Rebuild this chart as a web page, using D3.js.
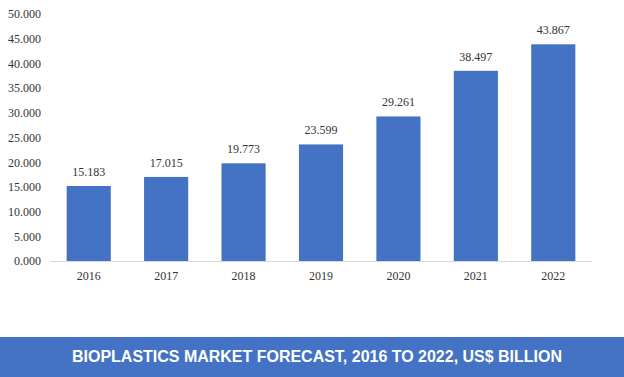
<!DOCTYPE html>
<html lang="en">
<head>
  <meta charset="UTF-8">
  <title>Bioplastics Market Forecast</title>
  <script src="https://d3js.org/d3.v7.min.js"></script>
  <style>
    body { margin: 0; background: #ffffff; }
    svg { display: block; }
    .axis text {
      font-family: "Liberation Serif", "Times New Roman", serif;
      font-size: 12px;
      fill: #333333;
    }
    .value-label {
      font-family: "Liberation Serif", "Times New Roman", serif;
      font-size: 12px;
      fill: #333333;
      text-anchor: middle;
    }
    .title-text {
      font-family: "Liberation Sans", Arial, sans-serif;
      font-size: 16px;
      font-weight: bold;
      fill: #ffffff;
      text-anchor: middle;
    }
  </style>
</head>
<body>
  <svg width="624" height="377"></svg>
  <script>
    const width = 624;
    const height = 377;

    // Data
    const years = ["2016", "2017", "2018", "2019", "2020", "2021", "2022"];
    const values = [15.183, 17.015, 19.773, 23.599, 29.261, 38.497, 43.867];
    const yTicks = [0, 5, 10, 15, 20, 25, 30, 35, 40, 45, 50];
    const title = "BIOPLASTICS MARKET FORECAST, 2016 TO 2022, US$ BILLION";

    const data = years.map((y, i) => ({ year: y, value: values[i] }));

    const svg = d3.select("svg");

    const xScale = d3.scaleBand()
      .domain(years)
      .range([50, 592])
      .paddingInner(0.43)
      .paddingOuter(0.215);

    const yScale = d3.scaleLinear()
      .domain([0, 50])
      .range([261, 14]);

    const fmt = d3.format(".3f");

    // Y axis (labels only)
    const yAxis = svg.append("g")
      .attr("class", "axis")
      .attr("transform", "translate(41,0)")
      .call(d3.axisLeft(yScale).tickValues(yTicks).tickSize(0).tickPadding(0).tickFormat(fmt));
    yAxis.select(".domain").remove();

    // Bars
    svg.append("g")
      .selectAll("rect")
      .data(data)
      .join("rect")
      .attr("x", d => xScale(d.year))
      .attr("y", d => yScale(d.value))
      .attr("width", xScale.bandwidth())
      .attr("height", d => yScale(0) - yScale(d.value))
      .attr("fill", "#4472C4");

    // X axis
    const xAxis = svg.append("g")
      .attr("class", "axis")
      .attr("transform", `translate(0,${yScale(0)})`)
      .call(d3.axisBottom(xScale).tickSize(0).tickPadding(10));
    xAxis.select(".domain").attr("stroke", "#d9d9d9");

    // Value labels
    svg.append("g")
      .selectAll("text")
      .data(data)
      .join("text")
      .attr("class", "value-label")
      .attr("x", d => xScale(d.year) + xScale.bandwidth() / 2)
      .attr("y", d => yScale(d.value) - 10)
      .text(d => fmt(d.value));

    // Title band
    svg.append("rect")
      .attr("x", 0)
      .attr("y", 337)
      .attr("width", width)
      .attr("height", height - 337)
      .attr("fill", "#4472C4");

    svg.append("text")
      .attr("class", "title-text")
      .attr("x", 317)
      .attr("y", 362)
      .attr("textLength", 490)
      .attr("lengthAdjust", "spacingAndGlyphs")
      .text(title);
  </script>
</body>
</html>
